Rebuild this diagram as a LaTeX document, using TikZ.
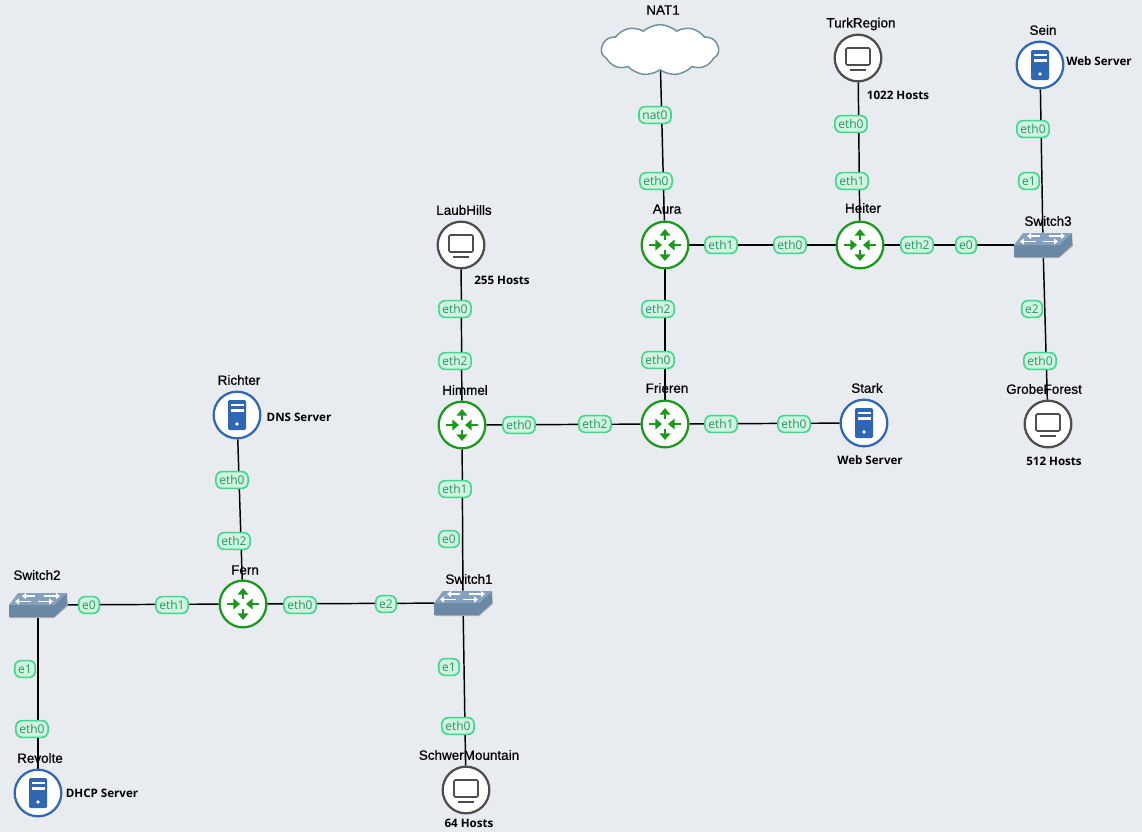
\documentclass[tikz,border=0pt]{standalone}
\usepackage{fontspec}
\setmainfont{Liberation Sans}
\newfontfamily\namefont[FakeBold=0.6]{Liberation Sans}
\newfontfamily\notefont{Open Sans}
\definecolor{netPaper}{HTML}{E8EBEF}
\definecolor{netGreen}{HTML}{1A9A1A}
\definecolor{netBlue}{HTML}{2F67B5}
\definecolor{netGrey}{HTML}{4D4D4D}
\definecolor{netCloud}{HTML}{6E929C}
\definecolor{portLine}{HTML}{3FD68E}
\definecolor{portFill}{HTML}{D0F5DF}
\definecolor{portText}{HTML}{2D8F6B}
\definecolor{swTop}{HTML}{86A1BB}
\definecolor{swSide}{HTML}{6B89A6}
\definecolor{swShadow}{HTML}{A9AEB3}
\usetikzlibrary{
	arrows.meta,
	backgrounds,
	shapes.symbols
}
\tikzset{
	router/.style={circle, draw=netGreen, fill=white, line width=1.7pt, minimum size=35pt, inner sep=0pt},
	server/.style={circle, draw=netBlue, fill=white, line width=1.7pt, minimum size=35pt, inner sep=0pt},
	hostpc/.style={circle, draw=netGrey, fill=white, line width=1.7pt, minimum size=35pt, inner sep=0pt},
	switchbox/.style={rectangle, minimum width=43pt, minimum height=18pt, inner sep=0pt},
	link/.style={black, line width=1.1pt},
	port/.style={draw=portLine, fill=portFill, text=portText, line width=1.2pt, rounded corners=4.5pt, font=\notefont\fontsize{9}{9}\selectfont, minimum height=12.5pt, inner sep=0pt, inner xsep=2.6pt},
	devname/.style={font=\namefont\fontsize{10.1}{10}\selectfont, inner sep=0pt},
	devnote/.style={font=\notefont\bfseries\fontsize{8.7}{10}\selectfont, inner sep=0pt},
	routericon/.pic={
		\foreach \r in {90,270}{\draw[netGreen, line width=1.9pt, -{Triangle[length=5pt,width=8pt]}, rotate=\r] (5,0) -- (16,0);}
		\foreach \r in {0,180}{\draw[netGreen, line width=1.9pt, -{Triangle[length=5pt,width=8pt]}, rotate=\r] (16,0) -- (3,0);}
	},
	servericon/.pic={
		\fill[netBlue, rounded corners=1pt] (-9,-15) rectangle (9,15);
		\fill[white] (-6.5,-11.5) rectangle (6.5,-9);
		\fill[white] (-6.5,-6) rectangle (6.5,-3.5);
		\fill[white] (0,9) circle (1.4pt);
	},
	hosticon/.pic={
		\draw[netGrey, line width=1.2pt, rounded corners=1pt] (-12,-10) rectangle (12,7);
		\draw[netGrey, line width=1pt] (-8,12) -- (8,12);
	},
	switchicon/.pic={
		\fill[swShadow] (-28,13) -- (16,13) -- (30,1) -- (29,-8) -- (16,8) -- (-28,8) -- cycle;
		\fill[swSide] (-29,0) -- (16,0) -- (29,-12) -- (29,0) -- (16,12) -- (-29,12) -- cycle;
		\fill[swTop] (-29,0) -- (-20,-12) -- (29,-12) -- (16,0) -- cycle;
		\draw[white, line width=1.3pt, -{Triangle[length=3pt,width=4.5pt]}] (-3,-9) -- (-16,-9);
		\draw[white, line width=1.3pt, -{Triangle[length=3pt,width=4.5pt]}] (6,-9) -- (22,-9);
		\draw[white, line width=1.3pt, -{Triangle[length=3pt,width=4.5pt]}] (-7,-3.5) -- (-23,-3.5);
		\draw[white, line width=1.3pt, -{Triangle[length=3pt,width=4.5pt]}] (0,-3.5) -- (15,-3.5);
	}
}
\begin{document}
\begin{tikzpicture}[x=0.75pt, y=-0.75pt]
	\useasboundingbox (0,0) rectangle (1142,832);
	\node[cloud, cloud puffs=11, cloud puff arc=85, aspect=2.3, draw=netCloud, fill=white, line width=1.1pt, minimum width=88pt, minimum height=38pt, inner sep=0pt] (NAT1) at (660,50) {};
	\foreach \name/\x/\y in {Aura/665/245, Heiter/860/245, Himmel/462/425, Frieren/665/424, Fern/243/604}{
		\node[router] (\name) at (\x,\y) {};
		\pic at (\x,\y) {routericon};
	}
	\foreach \name/\x/\y in {Sein/1040/65, Stark/864/423, Richter/237/415, Revolte/38/793}{
		\node[server] (\name) at (\x,\y) {};
		\pic at (\x,\y) {servericon};
	}
	\foreach \name/\x/\y in {TurkRegion/858/58, LaubHills/461/245, GrobeForest/1048/424, SchwerMountain/466/790}{
		\node[hostpc] (\name) at (\x,\y) {};
		\pic at (\x,\y) {hosticon};
	}
	\foreach \name/\x/\y in {Switch1/463/603, Switch2/38/605, Switch3/1043/245}{
		\node[switchbox] (\name) at (\x,\y) {};
		\pic at (\x,\y) {switchicon};
	}
	\begin{scope}[on background layer]
		\fill[netPaper] (0,0) rectangle (1142,832);
		\foreach \a/\b in {NAT1/Aura, TurkRegion/Heiter, Aura/Heiter, Aura/Frieren, Heiter/Switch3, Sein/Switch3, Switch3/GrobeForest, LaubHills/Himmel, Himmel/Frieren, Frieren/Stark, Himmel/Switch1, Richter/Fern, Switch2/Fern, Fern/Switch1, Switch2/Revolte, Switch1/SchwerMountain}{
			\draw[link] (\a) -- (\b);
		}
	\end{scope}
	\foreach \lab/\x/\y [count=\i] in {nat0/655/115, eth0/656/181, eth0/851/124, eth1/852/181, eth0/1033/129, e1/1029/181, eth1/721/245, eth0/790/245, eth2/917/245, e0/966/245, eth2/658/309, eth0/658/360, e2/1032/309, eth0/1040/361, eth0/455/309, eth2/455/361, eth0/519/425, eth2/595/424, eth1/721/424, eth0/794/424, eth1/455/489, e0/449/539, eth0/232/480, eth2/234/541, e0/89/605, eth1/172/605, eth0/300/605, e2/386/604, e1/449/667, eth0/458/726, e1/25/669, eth0/32/729}{
		\node[port] (port\i) at (\x,\y) {\lab};
	}
	\foreach \lab/\x/\y [count=\i] in {NAT1/663/10, TurkRegion/861/24, Sein/1043/30, LaubHills/464/210, Aura/667/209, Heiter/863/208, Switch3/1048/221, Himmel/465/390, Frieren/667/388, Stark/867/388, GrobeForest/1044/389, Richter/239/380, Fern/245/570, Switch2/37/575, Switch1/469/579, Revolte/40/758, SchwerMountain/469/755}{
		\node[devname] (name\i) at (\x,\y) {\lab};
	}
	\foreach \lab/\x/\y [count=\i] in {Web Server/1099/61, 1022 Hosts/898/95, 255 Hosts/502/280, Web Server/870/460, 512 Hosts/1054/461, DNS Server/299/417, DHCP Server/102/793, 64 Hosts/469/823}{
		\node[devnote] (note\i) at (\x,\y) {\lab};
	}
\end{tikzpicture}
\end{document}
